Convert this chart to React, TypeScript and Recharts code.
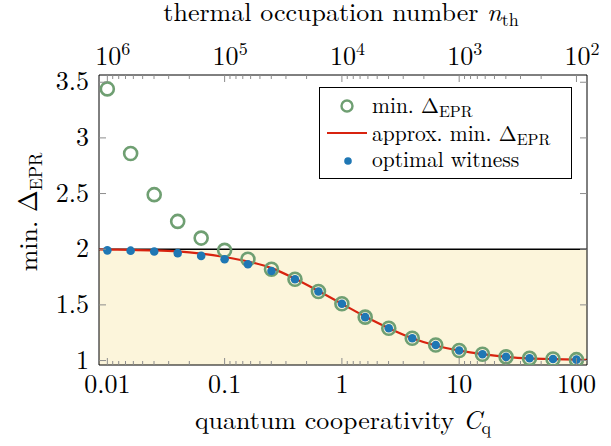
import React from 'react';
import {
  ComposedChart,
  Line,
  Scatter,
  XAxis,
  YAxis,
  ReferenceArea,
  ReferenceLine,
  Legend,
} from 'recharts';

// quantum cooperativity sample points (5 per decade)
const cq = [
  0.01, 0.0158, 0.0251, 0.0398, 0.0631, 0.1, 0.158, 0.251, 0.398, 0.631, 1,
  1.58, 2.51, 3.98, 6.31, 10, 15.8, 25.1, 39.8, 63.1, 100,
];
const minDelta = [
  3.44, 2.86, 2.49, 2.25, 2.1, 1.99, 1.91, 1.82, 1.73, 1.62, 1.51, 1.39, 1.29,
  1.2, 1.14, 1.09, 1.057, 1.033, 1.02, 1.014, 1.008,
];
const witness = [
  1.99, 1.987, 1.98, 1.965, 1.94, 1.91, 1.865, 1.805, 1.73, 1.62, 1.51, 1.39,
  1.29, 1.2, 1.14, 1.09, 1.057, 1.033, 1.02, 1.014, 1.008,
];
// approx curve, with ends at the axis limits
const approxC = [
  0.00849, 0.01, 0.0158, 0.0251, 0.0398, 0.0631, 0.1, 0.158, 0.251, 0.398,
  0.631, 1, 1.58, 2.51, 3.98, 6.31, 10, 15.8, 25.1, 39.8, 63.1, 100, 123,
];
const approxDelta = [
  1.998, 1.997, 1.995, 1.99, 1.98, 1.96, 1.93, 1.89, 1.83, 1.735, 1.625, 1.51,
  1.395, 1.29, 1.2, 1.135, 1.09, 1.057, 1.033, 1.02, 1.013, 1.008, 1.007,
];

const xMajor = [0.01, 0.1, 1, 10, 100];
const xLabels = ['0.01', '0.1', '1', '10', '100'];
const nthExp = ['6', '5', '4', '3', '2'];
const yTicks = [1, 1.5, 2, 2.5, 3, 3.5];
const yLabels = ['1', '1.5', '2', '2.5', '3', '3.5'];

const xDomain = [0.00849, 123];
const yDomain = [0.96, 3.565];
const bound = 2;

// minor ticks follow the n_th decades (10^(k+1)/m)
const xTicks: number[] = [];
xMajor.forEach((c, i) => {
  xTicks.push(c);
  if (i < xMajor.length - 1) {
    for (let m = 9; m >= 2; m--) xTicks.push((c * 10) / m);
  }
});

const greenData = cq.map((c, i) => ({ c, y: minDelta[i] }));
const blueData = cq.map((c, i) => ({ c, y: witness[i] }));
const redData = approxC.map((c, i) => ({ c, y: approxDelta[i] }));

const FONT = "'Latin Modern Roman', 'Liberation Serif', serif";
const TICK = '#8c8c8c';
const GREEN = '#6f9f72';
const BLUE = '#1f77b4';
const RED = '#d8230f';
const FILL = '#fcf5db';

const txt = { fontFamily: FONT };

const majorIdx = (v: number) =>
  xMajor.findIndex((m) => Math.abs(Math.log10(v) - Math.log10(m)) < 1e-6);

const BottomTick = (p: any) => {
  const i = majorIdx(p.payload.value);
  return (
    <g>
      <line x1={p.x} x2={p.x} y1={p.y} y2={p.y - (i >= 0 ? 7 : 4)} stroke={TICK} />
      {i >= 0 && (
        <text x={p.x} y={p.y + 28} textAnchor="middle" style={txt} fontSize={26} fill="#000">
          {xLabels[i]}
        </text>
      )}
    </g>
  );
};

const TopTick = (p: any) => {
  const i = majorIdx(p.payload.value);
  return (
    <g>
      <line x1={p.x} x2={p.x} y1={p.y} y2={p.y + (i >= 0 ? 7 : 4)} stroke={TICK} />
      {i >= 0 && (
        <text x={p.x - 12} y={p.y - 10} textAnchor="start" style={txt} fontSize={26} fill="#000">
          10
          <tspan dy={-10} fontSize={18}>
            {nthExp[i]}
          </tspan>
        </text>
      )}
    </g>
  );
};

const LeftTick = (p: any) => {
  const i = yTicks.indexOf(p.payload.value);
  return (
    <g>
      <line x1={p.x} x2={p.x + 7} y1={p.y} y2={p.y} stroke={TICK} />
      <text x={p.x - 10} y={p.y + 8} textAnchor="end" style={txt} fontSize={26} fill="#000">
        {yLabels[i]}
      </text>
    </g>
  );
};

const RightTick = (p: any) => (
  <line x1={p.x} x2={p.x - 7} y1={p.y} y2={p.y} stroke={TICK} />
);

const renderLegend = () => (
  <div
    style={{
      width: 253,
      height: 92,
      border: '1px solid #000',
      background: '#fff',
      boxSizing: 'border-box',
    }}
  >
    <svg width={251} height={90} style={{ display: 'block' }}>
      <circle cx={27} cy={18} r={5.5} fill="none" stroke={GREEN} strokeWidth={2.4} />
      <text x={52} y={25} style={txt} fontSize={21.5}>
        min. Δ<tspan dy={4} fontSize={16}>EPR</tspan>
      </text>
      <line x1={7} x2={47} y1={45} y2={45} stroke={RED} strokeWidth={2} />
      <text x={52} y={53} style={txt} fontSize={21.5}>
        approx. min. Δ<tspan dy={4} fontSize={16}>EPR</tspan>
      </text>
      <circle cx={28} cy={73} r={3.8} fill={BLUE} />
      <text x={52} y={79} style={txt} fontSize={21.5}>
        optimal witness
      </text>
    </svg>
  </div>
);

export default function App() {
  return (
    <div style={{ width: 611, height: 446, position: 'relative' }}>
      <style>{'body{margin:0;background:#fff}'}</style>
      <ComposedChart
        width={611}
        height={446}
        margin={{ top: 30, right: 20, bottom: 36, left: 39 }}
      >
        <XAxis
          dataKey="c"
          type="number"
          scale="log"
          domain={xDomain}
          allowDataOverflow
          ticks={xTicks}
          interval={0}
          tickSize={0}
          tickMargin={0}
          tick={<BottomTick />}
          height={45}
          stroke="#000"
          label={{
            content: () => (
              <g>
                <text x={343} y={429} textAnchor="middle" style={txt} fontSize={26} fill="#000">
                  quantum cooperativity <tspan fontStyle="italic">C</tspan>
                  <tspan dy={5} fontSize={18}>q</tspan>
                </text>
              </g>
            ),
          }}
        />
        <XAxis
          xAxisId="top"
          orientation="top"
          dataKey="c"
          type="number"
          scale="log"
          domain={xDomain}
          allowDataOverflow
          ticks={xTicks}
          interval={0}
          tickSize={0}
          tickMargin={0}
          tick={<TopTick />}
          height={45}
          stroke="#000"
          label={{
            content: () => (
              <g>
                <text x={341} y={21} textAnchor="middle" style={txt} fontSize={26} fill="#000">
                  thermal occupation number <tspan fontStyle="italic">n</tspan>
                  <tspan dy={5} fontSize={18}>th</tspan>
                </text>
              </g>
            ),
          }}
        />
        <YAxis
          type="number"
          domain={yDomain}
          allowDataOverflow
          ticks={yTicks}
          interval={0}
          tickSize={0}
          tickMargin={0}
          tick={<LeftTick />}
          width={60}
          stroke="#000"
          label={{
            content: () => (
              <g transform="translate(37 212) rotate(-90)">
                <text x={0} y={0} textAnchor="middle" style={txt} fontSize={26} fill="#000">
                  min. Δ<tspan dy={5} fontSize={18}>EPR</tspan>
                </text>
              </g>
            ),
          }}
        />
        <YAxis
          yAxisId="right"
          orientation="right"
          type="number"
          domain={yDomain}
          allowDataOverflow
          ticks={yTicks}
          interval={0}
          tickSize={0}
          tickMargin={0}
          tick={<RightTick />}
          width={4}
          stroke="#000"
        />
        <ReferenceArea
          x1={xDomain[0]}
          x2={xDomain[1]}
          y1={yDomain[0]}
          y2={bound}
          fill={FILL}
          fillOpacity={1}
          stroke="none"
        />
        <ReferenceLine y={bound} stroke="#000" strokeWidth={1.5} />
        <Line
          data={redData}
          dataKey="y"
          type="monotone"
          stroke={RED}
          strokeWidth={2.2}
          dot={false}
          isAnimationActive={false}
        />
        <Scatter
          data={greenData}
          dataKey="y"
          isAnimationActive={false}
          shape={(p: any) => (
            <circle cx={p.cx} cy={p.cy} r={6.5} fill="none" stroke={GREEN} strokeWidth={2.6} />
          )}
        />
        <Scatter
          data={blueData}
          dataKey="y"
          isAnimationActive={false}
          shape={(p: any) => <circle cx={p.cx} cy={p.cy} r={4.3} fill={BLUE} />}
        />
        <Legend
          layout="vertical"
          align="center"
          verticalAlign="middle"
          content={renderLegend}
          wrapperStyle={{ position: 'absolute', left: 319, top: 87, width: 253, height: 92 }}
        />
      </ComposedChart>
    </div>
  );
}
